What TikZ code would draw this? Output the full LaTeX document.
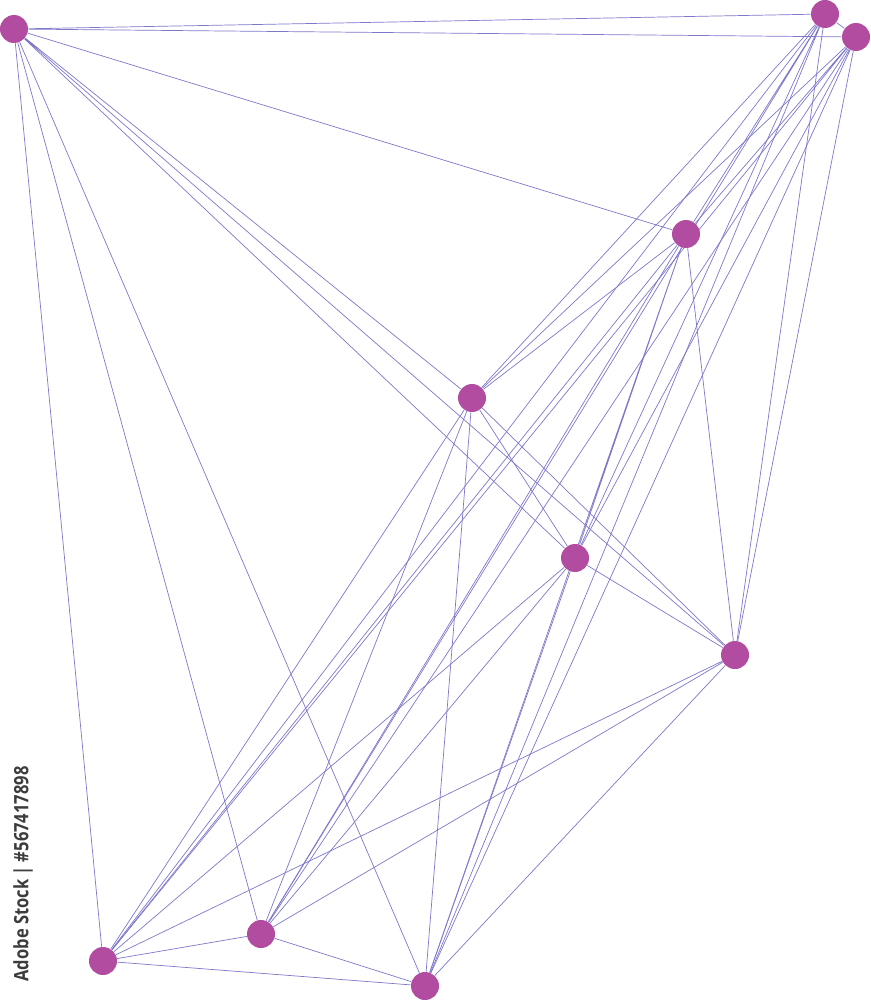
\documentclass[tikz,border=0pt]{standalone}
\usepackage{fontspec}
\setsansfont{Open Sans}
\usepackage{tikz}
\usetikzlibrary{backgrounds}
\usepackage{xcolor}
\definecolor{vertex}{RGB}{178, 76, 160}
\definecolor{link}{RGB}{126, 120, 202}
\definecolor{stamp}{RGB}{60, 60, 60}
\tikzstyle{dot}  = [circle, minimum size=0.56cm, inner sep=0pt, fill=vertex, draw=none]
\tikzstyle{edge} = [draw=link, line width=0.4pt]

\begin{document}
\begin{tikzpicture}[x=0.02cm, y=-0.02cm]
  \useasboundingbox (0,0) rectangle (871,1000);

  % Top row
  \node (nw)    [dot] at (14,29)   {};
  \node (ne)    [dot] at (825,14)  {};
  \node (ene)   [dot] at (856,37)  {};

  % Middle
  \node (up)    [dot] at (686,234) {};
  \node (mid)   [dot] at (472,398) {};
  \node (ctr)   [dot] at (575,558) {};
  \node (east)  [dot] at (735,655) {};

  % Bottom row
  \node (sw)    [dot] at (103,961) {};
  \node (sm)    [dot] at (261,934) {};
  \node (south) [dot] at (425,986) {};

  % Every pair is joined
  \begin{scope}[on background layer]
    \draw [edge] (nw) -- (ne)   (nw) -- (ene)  (nw) -- (up)   (nw) -- (mid)
                 (nw) -- (ctr)  (nw) -- (east) (nw) -- (sw)   (nw) -- (sm)
                 (nw) -- (south);
    \draw [edge] (ne) -- (ene)  (ne) -- (up)   (ne) -- (mid)  (ne) -- (ctr)
                 (ne) -- (east) (ne) -- (sw)   (ne) -- (sm)   (ne) -- (south);
    \draw [edge] (ene) -- (up)  (ene) -- (mid) (ene) -- (ctr) (ene) -- (east)
                 (ene) -- (sw)  (ene) -- (sm)  (ene) -- (south);
    \draw [edge] (up) -- (mid)  (up) -- (ctr)  (up) -- (east) (up) -- (sw)
                 (up) -- (sm)   (up) -- (south);
    \draw [edge] (mid) -- (ctr) (mid) -- (east) (mid) -- (sw) (mid) -- (sm)
                 (mid) -- (south);
    \draw [edge] (ctr) -- (east) (ctr) -- (sw) (ctr) -- (sm)  (ctr) -- (south);
    \draw [edge] (east) -- (sw) (east) -- (sm) (east) -- (south);
    \draw [edge] (sw) -- (sm)   (sw) -- (south);
    \draw [edge] (sm) -- (south);
  \end{scope}

  \node (credit) [rotate=90, text=stamp, inner sep=0pt,
                  font=\sffamily\bfseries\fontsize{9.4}{11}\selectfont]
        at (23,874) {\scalebox{1}[1.2]{Adobe Stock | \#567417898}};
\end{tikzpicture}
\end{document}
